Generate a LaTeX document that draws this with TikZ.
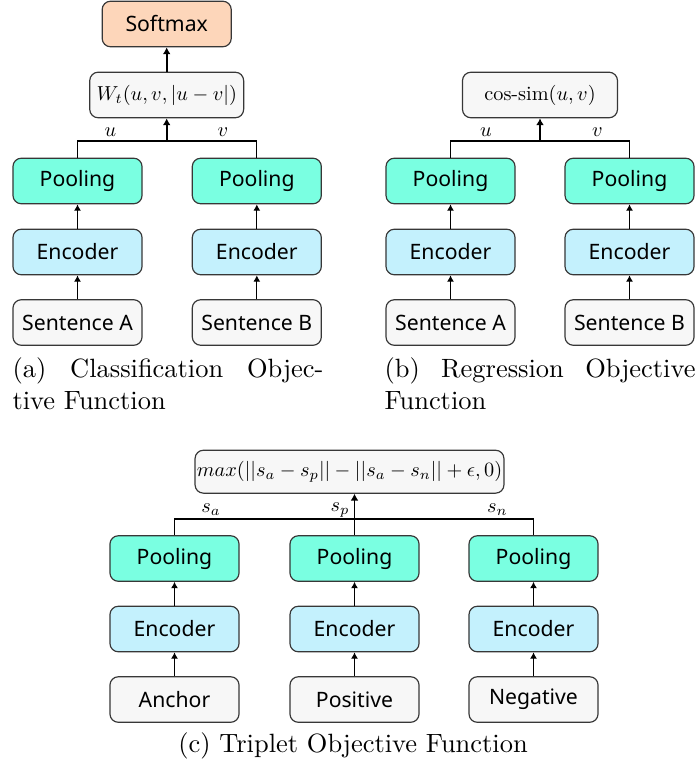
\documentclass[tikz,border=0pt]{standalone}
\usepackage{graphicx}
\usepackage{fontspec}
\newfontfamily\boxfont{Noto Sans}
\usetikzlibrary{arrows.meta}

% math set at its 10pt design size, then reduced
\newcommand{\smath}[1]{\scalebox{0.774}{$#1$}}

\definecolor{poolfill}{RGB}{122,255,225}
\definecolor{encfill}{RGB}{196,241,253}
\definecolor{infill}{RGB}{247,247,247}
\definecolor{softfill}{RGB}{253,214,186}
\definecolor{edgegray}{RGB}{55,55,55}

\tikzset{
  box/.style={draw=edgegray, line width=0.45pt, rounded corners=3.2pt,
    minimum width=49.3pt, minimum height=17.4pt, inner sep=0pt,
    font=\boxfont\fontsize{8.1}{9.6}\selectfont},
  poolbox/.style={box, fill=poolfill},
  encbox/.style={box, fill=encfill},
  inbox/.style={box, fill=infill},
  softbox/.style={box, fill=softfill},
  mathbox/.style={box, fill=infill, font=\fontsize{10}{12}\selectfont},
  vlabel/.style={font=\fontsize{10}{12}\selectfont, inner sep=0pt},
  thinarrow/.style={line width=0.45pt, -{Latex[length=2.4pt,width=2.7pt]}},
  thickarrow/.style={line width=0.75pt, -{Latex[length=2.6pt,width=3pt]}},
  joinline/.style={line width=0.45pt},
  captext/.style={font=\fontsize{10.1}{12}\selectfont, inner sep=0pt}
}

\begin{document}
\begin{tikzpicture}[x=0.382pt, y=-0.382pt]
\useasboundingbox (0,0) rectangle (697,767);

% ---------- (a) classification objective ----------
\node[softbox] (soft) at (166.7,24) {Softmax};
\node[mathbox, minimum width=58.8pt] (wt) at (166.7,95) {\smath{W_t(u,v,|u-v|)}};
\node[poolbox] (poolA) at (77.5,181) {Pooling};
\node[poolbox] (poolB) at (256.8,181) {Pooling};
\node[encbox] (encA) at (77.5,252) {Encoder};
\node[encbox] (encB) at (256.8,252) {Encoder};
\node[inbox] (sentA) at (77.5,322.5) {Sentence A};
\node[inbox] (sentB) at (256.8,322.5) {Sentence B};
\coordinate (ja) at (166.7,141);
\node[vlabel] (lu) at (110.5,132) {\smath{u}};
\node[vlabel] (lv) at (223,132) {\smath{v}};

\draw[thinarrow] (sentA) -- (encA);
\draw[thinarrow] (encA) -- (poolA);
\draw[thinarrow] (sentB) -- (encB);
\draw[thinarrow] (encB) -- (poolB);
\draw[joinline] (poolA.north) |- (ja) -| (poolB.north);
\draw[thickarrow] (ja) -- (wt.south);
\draw[thickarrow] (wt.north) -- (soft.south);

\node[captext, anchor=base west] (capa1) at (12,377)
  {\makebox[118.8pt][s]{(a) Classification Objec-}};
\node[captext, anchor=base west] (capa2) at (12,409) {tive Function};

% ---------- (b) regression objective ----------
\node[mathbox, minimum width=59.2pt] (cos) at (540,95) {\smath{\textrm{cos-sim}(u,v)}};
\node[poolbox] (poolC) at (450.5,181) {Pooling};
\node[poolbox] (poolD) at (629.5,181) {Pooling};
\node[encbox] (encC) at (450.5,252) {Encoder};
\node[encbox] (encD) at (629.5,252) {Encoder};
\node[inbox] (sentC) at (450.5,322.5) {Sentence A};
\node[inbox] (sentD) at (629.5,322.5) {Sentence B};
\coordinate (jb) at (540,141);
\node[vlabel] (lu2) at (486,132) {\smath{u}};
\node[vlabel] (lv2) at (597.5,132) {\smath{v}};

\draw[thinarrow] (sentC) -- (encC);
\draw[thinarrow] (encC) -- (poolC);
\draw[thinarrow] (sentD) -- (encD);
\draw[thinarrow] (encD) -- (poolD);
\draw[joinline] (poolC.north) |- (jb) -| (poolD.north);
\draw[thickarrow] (jb) -- (cos.south);

\node[captext, anchor=base west] (capb1) at (384,377)
  {\makebox[118.8pt][s]{(b) Regression Objective}};
\node[captext, anchor=base west] (capb2) at (384,409) {Function};

% ---------- (c) triplet objective ----------
\node[mathbox, minimum width=118pt, minimum height=16.4pt] (trip) at (349.5,471.7)
  {\smath{max(||s_a-s_p||-||s_a-s_n||+\epsilon,0)}};
\node[poolbox] (poolE) at (174.5,558.5) {Pooling};
\node[poolbox] (poolF) at (354.5,558.5) {Pooling};
\node[poolbox] (poolG) at (533.5,558.5) {Pooling};
\node[encbox] (encE) at (174.5,629) {Encoder};
\node[encbox] (encF) at (354.5,629) {Encoder};
\node[encbox] (encG) at (533.5,629) {Encoder};
\node[inbox] (anc) at (174.5,699.5) {Anchor};
\node[inbox] (pos) at (354.5,699.5) {Positive};
\node[inbox] (neg) at (533.5,699.5) {Negative};
\coordinate (jc) at (354.5,519);
\node[vlabel] (lsa) at (211,510) {\smath{s_a}};
\node[vlabel] (lsp) at (340,510) {\smath{s_p}};
\node[vlabel] (lsn) at (497.5,510) {\smath{s_n}};

\draw[thinarrow] (anc) -- (encE);
\draw[thinarrow] (encE) -- (poolE);
\draw[thinarrow] (pos) -- (encF);
\draw[thinarrow] (encF) -- (poolF);
\draw[thinarrow] (neg) -- (encG);
\draw[thinarrow] (encG) -- (poolG);
\draw[joinline] (poolE.north) |- (jc) -| (poolG.north);
\draw[thickarrow] (poolF.north) -- (poolF.north |- trip.south);

\node[captext, anchor=base] (capc) at (353,752) {(c) Triplet Objective Function};
\end{tikzpicture}
\end{document}
